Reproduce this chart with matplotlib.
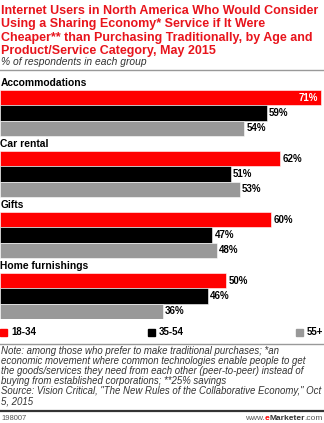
import matplotlib.pyplot as plt

# datos
categorias = ["Accommodations", "Car rental", "Gifts", "Home furnishings"]
edades = ["18-34", "35-54", "55+"]
v_18_34 = [71, 62, 60, 50]
v_35_54 = [59, 51, 47, 46]
v_55 = [54, 53, 48, 36]

colores = ["#ff0000", "#000000", "#999999"]
W, H = 324, 423

fig = plt.figure(figsize=(W / 100, H / 100), dpi=100)
plt.rcParams['font.family'] = ['Liberation Sans', 'DejaVu Sans']

def fy(px):  # pixel desde arriba -> coordenada de figura
    return 1 - px / H

titulo = ("Internet Users in North America Who Would Consider\n"
          "Using a Sharing Economy* Service if It Were\n"
          "Cheaper** than Purchasing Traditionally, by Age and\n"
          "Product/Service Category, May 2015")
fig.text(0.003, fy(4.5), titulo, color="#e8141c", fontsize=9.0, fontweight="bold",
         va="top", ha="left", linespacing=1.17)
fig.text(0.003, fy(62), "% of respondents in each group", color="#333333",
         fontsize=7.4, style="italic", va="center", ha="left")
fig.add_artist(plt.Line2D([0, 1], [fy(70.5), fy(70.5)], color="#999999", lw=1))

# barras
ax = fig.add_axes([0, fy(319), 1, (319 - 90) / H])
series = [v_18_34, v_35_54, v_55]
for j, vals in enumerate(series):
    ys = [i * 4 + j for i in range(len(categorias))]
    ax.barh(ys, vals, height=1.0, color=colores[j], edgecolor="white", linewidth=0.4)
    for y, v in zip(ys, vals):
        if v == max(v_18_34) and j == 0:
            ax.text(v - 0.6, y, f"{v}%", color="white", fontsize=7, fontweight="bold",
                    va="center", ha="right")
        else:
            ax.text(v + 0.5, y, f"{v}%", color="black", fontsize=7, fontweight="bold",
                    va="center", ha="left")
for i, c in enumerate(categorias):
    ax.text(0.1, i * 4 - 0.98, c, fontsize=7.4, fontweight="bold", va="center",
            ha="left", clip_on=False)
ax.set_xlim(0, 71 * W / 321)
ax.set_ylim(14.5, -0.5)
ax.axis("off")

# leyenda
ly = fy(332)
xs = [0, 148, 296]
for k in range(3):
    fig.add_artist(plt.Rectangle((xs[k] / W, ly - 3.5 / H), 7 / W, 7 / H,
                                 color=colores[k], transform=fig.transFigure))
    fig.text((xs[k] + 11) / W, ly, edades[k], fontsize=7, fontweight="bold",
             va="center", ha="left")

fig.add_artist(plt.Line2D([0, 1], [fy(343.5), fy(343.5)], color="#999999", lw=1))

nota = ("Note: among those who prefer to make traditional purchases; *an\n"
        "economic movement where common technologies enable people to get\n"
        "the goods/services they need from each other (peer-to-peer) instead of\n"
        "buying from established corporations; **25% savings\n"
        "Source: Vision Critical, \"The New Rules of the Collaborative Economy,\" Oct\n"
        "5, 2015")
fig.text(0.003, fy(345.5), nota, fontsize=6.9, style="italic", color="#333333",
         va="top", ha="left", linespacing=1.02)

fig.add_artist(plt.Line2D([0, 1], [fy(411), fy(411)], color="#333333", lw=1.6))
fig.text(0.003, fy(418), "198007", fontsize=5.5, color="#555555", va="center", ha="left")

# www.eMarketer.com, por trozos de derecha a izquierda
r = fig.canvas.get_renderer()
trozos = [(".com", "#555555", "normal"), ("Marketer", "#333333", "bold"),
          ("e", "#ff0000", "bold"), ("www.", "#555555", "normal")]
x = 0.997
for s, col, fw in trozos:
    t = fig.text(x, fy(418), s, fontsize=6, color=col, fontweight=fw,
                 va="center", ha="right")
    bb = t.get_window_extent(renderer=r)
    x -= bb.width / W

fig.savefig("out.png", dpi=100)
